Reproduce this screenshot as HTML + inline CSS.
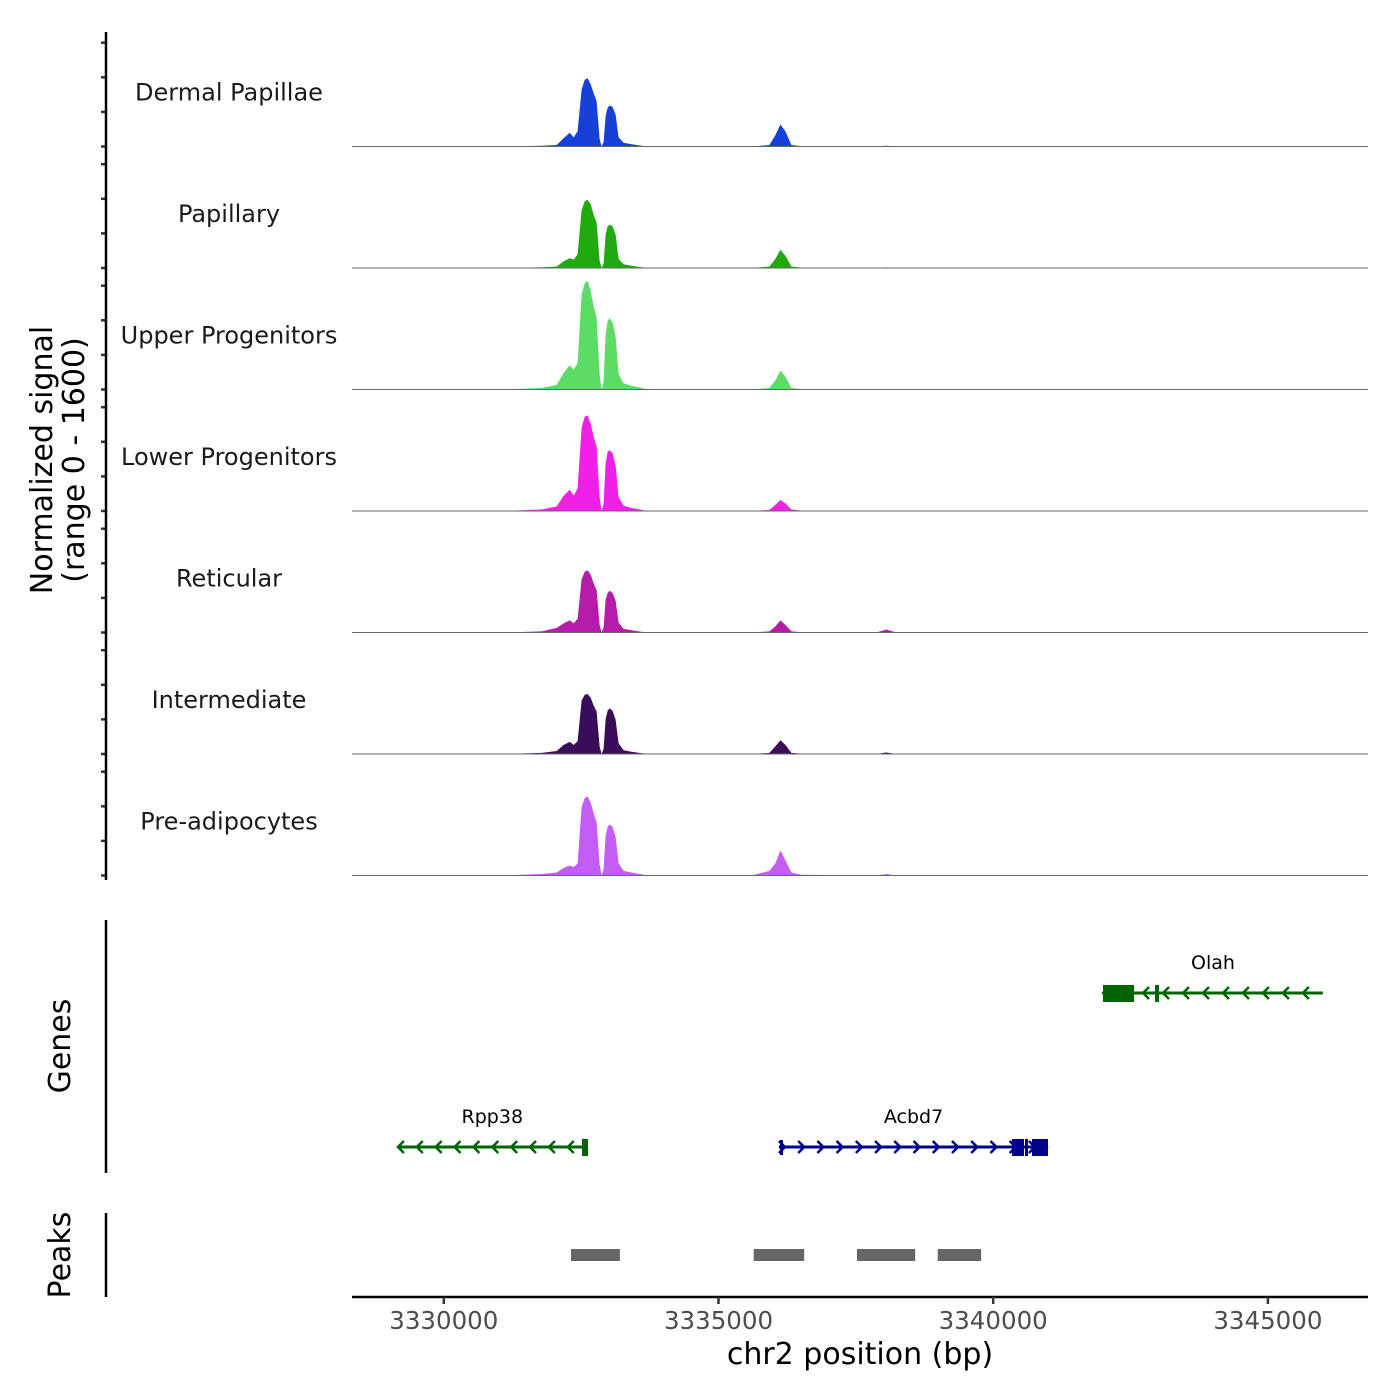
<!DOCTYPE html>
<html><head><meta charset="utf-8"><style>
body{margin:0;background:#fff;}
svg{display:block;font-family:"DejaVu Sans","Liberation Sans",sans-serif;}
</style></head><body>
<svg id="chart" width="1400" height="1400" viewBox="0 0 1400 1400" xmlns="http://www.w3.org/2000/svg">
<rect width="1400" height="1400" fill="#fff"/>
<g id="tracks"></g>
<g id="genes"></g>
<g id="peaks"></g>
<g id="axes"></g>
</svg>
<script>
// ---- data ----
const positions = [3328364,3331055,3331782,3332055,3332182,3332291,3332364,3332436,3332509,3332564,3332618,3332673,3332727,3332782,3332836,3332873,3332909,3332945,3332982,3333018,3333073,3333127,3333182,3333273,3333418,3333600,3333709,3335600,3335927,3336036,3336127,3336218,3336327,3336509,3337873,3338055,3338236,3346836];
const trackNames = ["Dermal Papillae","Papillary","Upper Progenitors","Lower Progenitors","Reticular","Intermediate","Pre-adipocytes"];
const trackColors = ["#1740d8","#20aa10","#5ddc65","#f020e8","#b61caa","#3a0d5a","#c45cf6"];
const sigDermal =  [0,0,10,20,110,180,120,200,750,880,900,820,700,600,100,0,60,400,510,540,520,420,120,50,30,10,0,0,20,150,290,200,20,5,0,10,0,0];
const sigPapill =  [0,0,10,20,90,130,110,180,760,880,900,840,700,600,100,0,60,440,550,570,550,440,120,50,30,10,0,0,20,120,240,160,20,5,0,8,0,0];
const sigUpper =   [0,0,20,60,220,320,260,350,1250,1400,1430,1300,1100,950,200,0,100,720,900,940,880,700,200,80,50,20,0,0,20,120,250,170,20,5,0,0,0,0];
const sigLower =   [0,0,20,60,200,280,200,300,1100,1240,1260,1150,980,850,180,0,90,620,780,800,760,600,180,70,40,15,0,0,15,80,145,100,20,5,0,0,0,0];
const sigRetic =   [0,0,15,60,120,160,120,180,700,800,820,760,650,560,100,0,70,430,520,550,520,420,130,50,30,10,0,0,15,80,160,100,15,5,0,40,0,0];
const sigInterm =  [0,0,15,40,120,160,120,170,700,780,790,740,640,560,100,0,70,460,570,600,570,450,140,50,30,10,0,0,15,100,180,120,15,5,0,20,0,0];
const sigPreadi =  [0,0,20,40,100,130,110,160,900,1020,1040,960,820,700,150,0,80,520,640,670,640,510,160,60,40,15,0,0,60,160,330,200,40,10,0,20,0,0];
const signals = [sigDermal,sigPapill,sigUpper,sigLower,sigRetic,sigInterm,sigPreadi];
const xTicks = [3330000,3335000,3340000,3345000];
const peakStarts = [3332315,3335640,3337520,3338990];
const peakEnds =   [3333205,3336560,3338580,3339780];
const geneNames = ["Rpp38","Acbd7","Olah"];
const geneStarts = [3329165,3336100,3342000];
const geneEnds =   [3332600,3341000,3346000];
const geneStrands = [-1,1,-1];

// ---- scales ----
const NS="http://www.w3.org/2000/svg";
const X0=352,X1=1368;
function xs(bp){return 718.5+(bp-3335000)*0.05494;}
const trackH=121.5, firstBase=146.5;
function ys(v,b){return b - v*121.5/1600;}
function mk(tag,attrs,parent){const e=document.createElementNS(NS,tag);for(const k in attrs)e.setAttribute(k,attrs[k]);parent.appendChild(e);return e;}
const tracks=document.getElementById('tracks'),genes=document.getElementById('genes'),peaks=document.getElementById('peaks'),axes=document.getElementById('axes');

// ---- coverage tracks ----
signals.forEach((s,i)=>{
  const b=firstBase+i*trackH;
  let d=`M${xs(positions[0])},${b}`;
  positions.forEach((p,j)=>{d+=` L${xs(p).toFixed(1)},${ys(s[j],b).toFixed(1)}`;});
  d+=` L${xs(positions[positions.length-1])},${b} Z`;
  const a=mk('path',{d:d,fill:trackColors[i]},tracks);
  
  
  const l=mk('line',{x1:X0,x2:X1,y1:b,y2:b,stroke:'#666',"stroke-width":1},tracks);
  
  
  const t=mk('text',{x:229,y:b-46,"text-anchor":"middle","font-size":24,fill:'#1a1a1a'},tracks);
  t.textContent=trackNames[i];
  
  
  for(let k=0;k<4;k++){
    const ty=b-k*34.6;
    const tk=mk('line',{x1:101,x2:106,y1:ty,y2:ty,stroke:'#333',"stroke-width":2.5},axes);
    
    
  }
});
const ya=mk('line',{x1:106,x2:106,y1:32,y2:880,stroke:'#000',"stroke-width":2.5},axes);


const yt=mk('text',{x:0,y:0,"text-anchor":"middle","font-size":30,fill:'#000',transform:'translate(52,460) rotate(-90)'},axes);


const s1=mk('tspan',{x:0,dy:0},yt);s1.textContent='Normalized signal';
const s2=mk('tspan',{x:0,dy:32},yt);s2.textContent='(range 0 - 1600)';

// ---- genes ----
geneNames.forEach((g,i)=>{
  const gy = i===2 ? 993 : 1147;
  const col = geneStrands[i]>0 ? '#00008b' : '#006400';
  const xa=xs(geneStarts[i]), xb=xs(geneEnds[i]);
  const gg=mk('g',{},genes);
  
  
  mk('line',{x1:xa,x2:xb,y1:gy,y2:gy,stroke:col,"stroke-width":3},gg);
  const n=Math.floor((xb-xa)/18.5);
  for(let k=0;k<n;k++){
    const cx=xa+k*(xb-xa)/n+ (geneStrands[i]<0?2:4), dir=geneStrands[i];
    mk('polyline',{points:`${cx-4*dir},${gy-6} ${cx+2*dir},${gy} ${cx-4*dir},${gy+6}`,fill:'none',stroke:col,"stroke-width":2.5},gg);
  }
  const lbl=mk('text',{x:(xa+xb)/2,y:gy-24,"text-anchor":"middle","font-size":19,fill:'#000'},gg);
  lbl.textContent=g;
});
// exons
mk('rect',{x:582,y:1139,width:6,height:17,fill:'#006400'},genes);
mk('rect',{x:780,y:1140,width:3,height:15,fill:'#00008b'},genes);
mk('rect',{x:1012,y:1139,width:12,height:17,fill:'#00008b'},genes);
mk('rect',{x:1025,y:1139,width:3,height:17,fill:'#00008b'},genes);
mk('rect',{x:1032,y:1139,width:16,height:17,fill:'#00008b'},genes);
mk('rect',{x:1103,y:985,width:31,height:17,fill:'#006400'},genes);
mk('rect',{x:1155,y:985,width:4,height:17,fill:'#006400'},genes);
const ga=mk('line',{x1:106,x2:106,y1:920,y2:1173,stroke:'#000',"stroke-width":2.5},axes);


const gt=mk('text',{x:0,y:0,"text-anchor":"middle","font-size":30,fill:'#000',transform:'translate(70,1046) rotate(-90)'},axes);
gt.textContent='Genes';



// ---- peaks ----
peakStarts.forEach((s,i)=>{
  const r=mk('rect',{x:xs(s),y:1249,width:xs(peakEnds[i])-xs(s),height:12,fill:'#666'},peaks);
  
  
});
const pa=mk('line',{x1:106,x2:106,y1:1213,y2:1297,stroke:'#000',"stroke-width":2.5},axes);


const pt=mk('text',{x:0,y:0,"text-anchor":"middle","font-size":30,fill:'#000',transform:'translate(70,1255) rotate(-90)'},axes);
pt.textContent='Peaks';



// ---- x axis ----
const xa=mk('line',{x1:X0,x2:X1,y1:1297,y2:1297,stroke:'#000',"stroke-width":2.5},axes);


xTicks.forEach(t=>{
  const tk=mk('line',{x1:xs(t),x2:xs(t),y1:1297,y2:1304,stroke:'#333',"stroke-width":2.5},axes);
  
  
  const tl=mk('text',{x:xs(t),y:1329,"text-anchor":"middle","font-size":24.5,fill:'#4d4d4d'},axes);
  tl.textContent=String(t);
  
  
});
const xt=mk('text',{x:860,y:1364,"text-anchor":"middle","font-size":30,fill:'#000'},axes);
xt.textContent='chr2 position (bp)';


</script>
</body></html>
